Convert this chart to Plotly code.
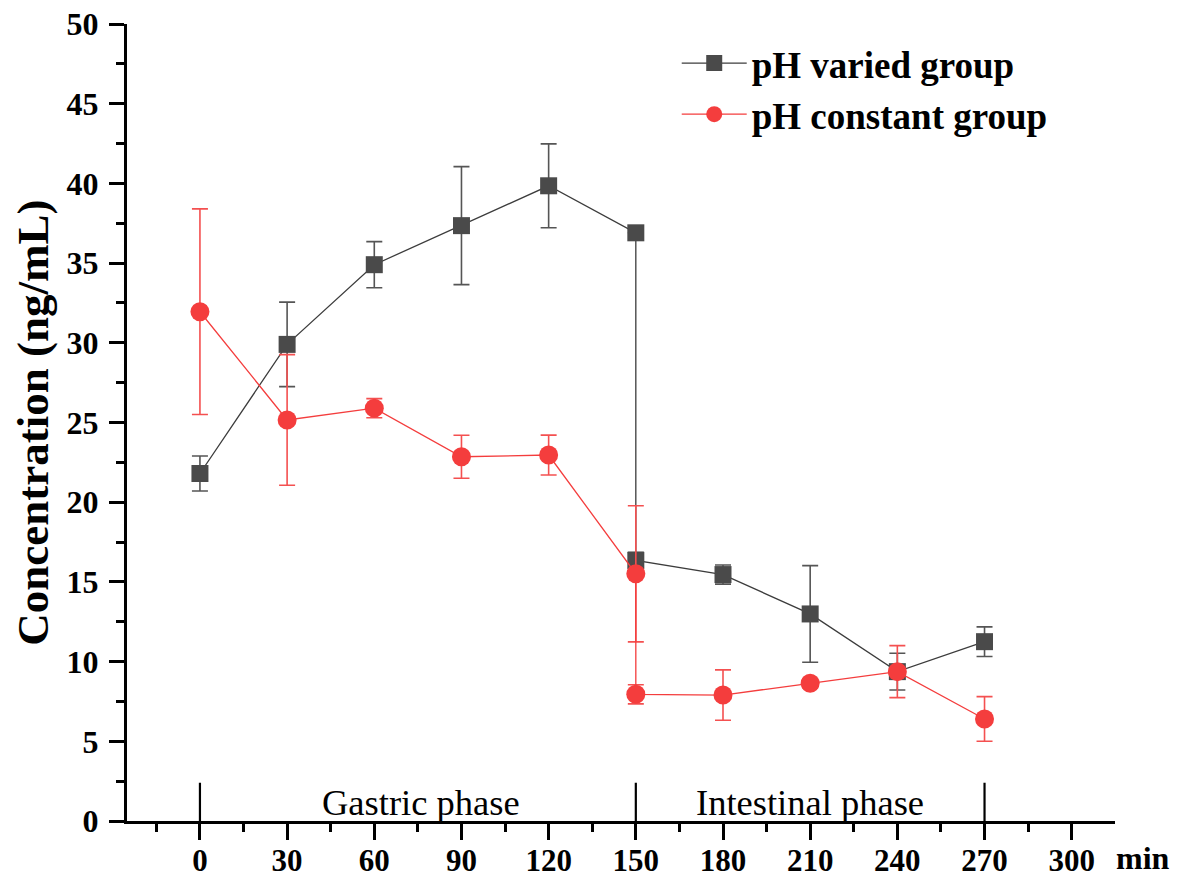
import plotly.graph_objects as go

# ---- data ----
time_min = [0, 30, 60, 90, 120, 150, 150, 180, 210, 240, 270]
varied_mean = [21.8, 29.9, 34.9, 37.35, 39.85, 36.9, 16.35, 15.46, 12.99, 9.37, 11.25]
varied_err = [1.1, 2.65, 1.45, 3.7, 2.63, 0.0, 0.5, 0.6, 3.03, 1.15, 0.93]
constant_mean = [31.95, 25.16, 25.9, 22.85, 22.96, 15.51, 7.95, 7.9, 8.64, 9.37, 6.4]
constant_err = [6.45, 4.1, 0.6, 1.35, 1.25, 4.27, 0.6, 1.58, 0.3, 1.63, 1.4]

x_ticks = [0, 30, 60, 90, 120, 150, 180, 210, 240, 270, 300]
y_ticks = [0, 5, 10, 15, 20, 25, 30, 35, 40, 45, 50]
phase_bounds = [0, 150, 270]
phase_labels = ["Gastric phase", "Intestinal phase"]
phase_centers = [76, 210]

series_names = ["pH varied group", "pH constant group"]

SERIF = "Liberation Serif, Times New Roman, serif"
GRAY = "#4a4a4a"
RED = "#f43d3d"

fig = go.Figure()
fig.add_trace(go.Scatter(
    x=time_min, y=varied_mean, name=series_names[0], mode="lines+markers",
    line=dict(color="#3c3c3c", width=1.3),
    marker=dict(symbol="square", size=17, color=GRAY),
    error_y=dict(type="data", array=varied_err, visible=True, color="#555555", thickness=1.6, width=8),
))
fig.add_trace(go.Scatter(
    x=time_min, y=constant_mean, name=series_names[1], mode="lines+markers",
    line=dict(color=RED, width=1.3),
    marker=dict(symbol="circle", size=19, color=RED),
    error_y=dict(type="data", array=constant_err, visible=True, color="#f45050", thickness=1.6, width=8),
))

# phase boundary markers
for b in phase_bounds:
    fig.add_shape(type="line", x0=b, x1=b, y0=0, y1=2.4, xref="x", yref="y",
                  line=dict(color="black", width=2.2))
for lab, c in zip(phase_labels, phase_centers):
    fig.add_annotation(x=c, y=1.15, xref="x", yref="y", text=lab, showarrow=False,
                       xanchor="center", yanchor="middle",
                       font=dict(family=SERIF, size=36.5, color="black"))

# axis label annotations
fig.add_annotation(x=-0.096, y=0.5, xref="paper", yref="paper",
                   text="Concentration (ng/mL)", textangle=-90, showarrow=False,
                   xanchor="center", yanchor="middle",
                   font=dict(family=SERIF, size=45, color="black", weight="bold"))
fig.add_annotation(x=0.9985, y=-0.0464, xref="paper", yref="paper",
                   text="min", showarrow=False, xanchor="left", yanchor="middle",
                   font=dict(family=SERIF, size=32, color="black", weight="bold"))

fig.update_layout(
    width=1177, height=878,
    margin=dict(l=127, r=61.5, t=24, b=57, autoexpand=False),
    paper_bgcolor="white", plot_bgcolor="white",
    showlegend=True,
    legend=dict(x=0.5564, y=0.9893, xanchor="left", yanchor="top",
                bgcolor="rgba(0,0,0,0)", itemwidth=65, tracegroupgap=0,
                font=dict(family=SERIF, size=37, color="black", weight="bold")),
    xaxis=dict(
        range=[-25.1, 314.9], tickmode="array", tickvals=x_ticks,
        ticktext=[str(v) for v in x_ticks], automargin=False,
        showgrid=False, zeroline=False, showline=True, linecolor="black", linewidth=3,
        ticks="outside", ticklen=16, tickwidth=3, tickcolor="black",
        ticklabelstandoff=-6,
        minor=dict(ticks="outside", ticklen=8, tickwidth=3, tickcolor="black",
                   tick0=-15, dtick=30, showgrid=False),
        tickfont=dict(family=SERIF, size=31, color="black", weight="bold"),
    ),
    yaxis=dict(
        range=[0, 50], tickmode="array", tickvals=y_ticks,
        ticktext=[str(v) for v in y_ticks], automargin=False,
        showgrid=False, zeroline=False, showline=True, linecolor="black", linewidth=3,
        ticks="outside", ticklen=15, tickwidth=3, tickcolor="black",
        ticklabelstandoff=4,
        minor=dict(ticks="outside", ticklen=8, tickwidth=3, tickcolor="black",
                   tick0=2.5, dtick=5, showgrid=False),
        tickfont=dict(family=SERIF, size=32, color="black", weight="bold"),
    ),
)

fig.write_html("out.html")
